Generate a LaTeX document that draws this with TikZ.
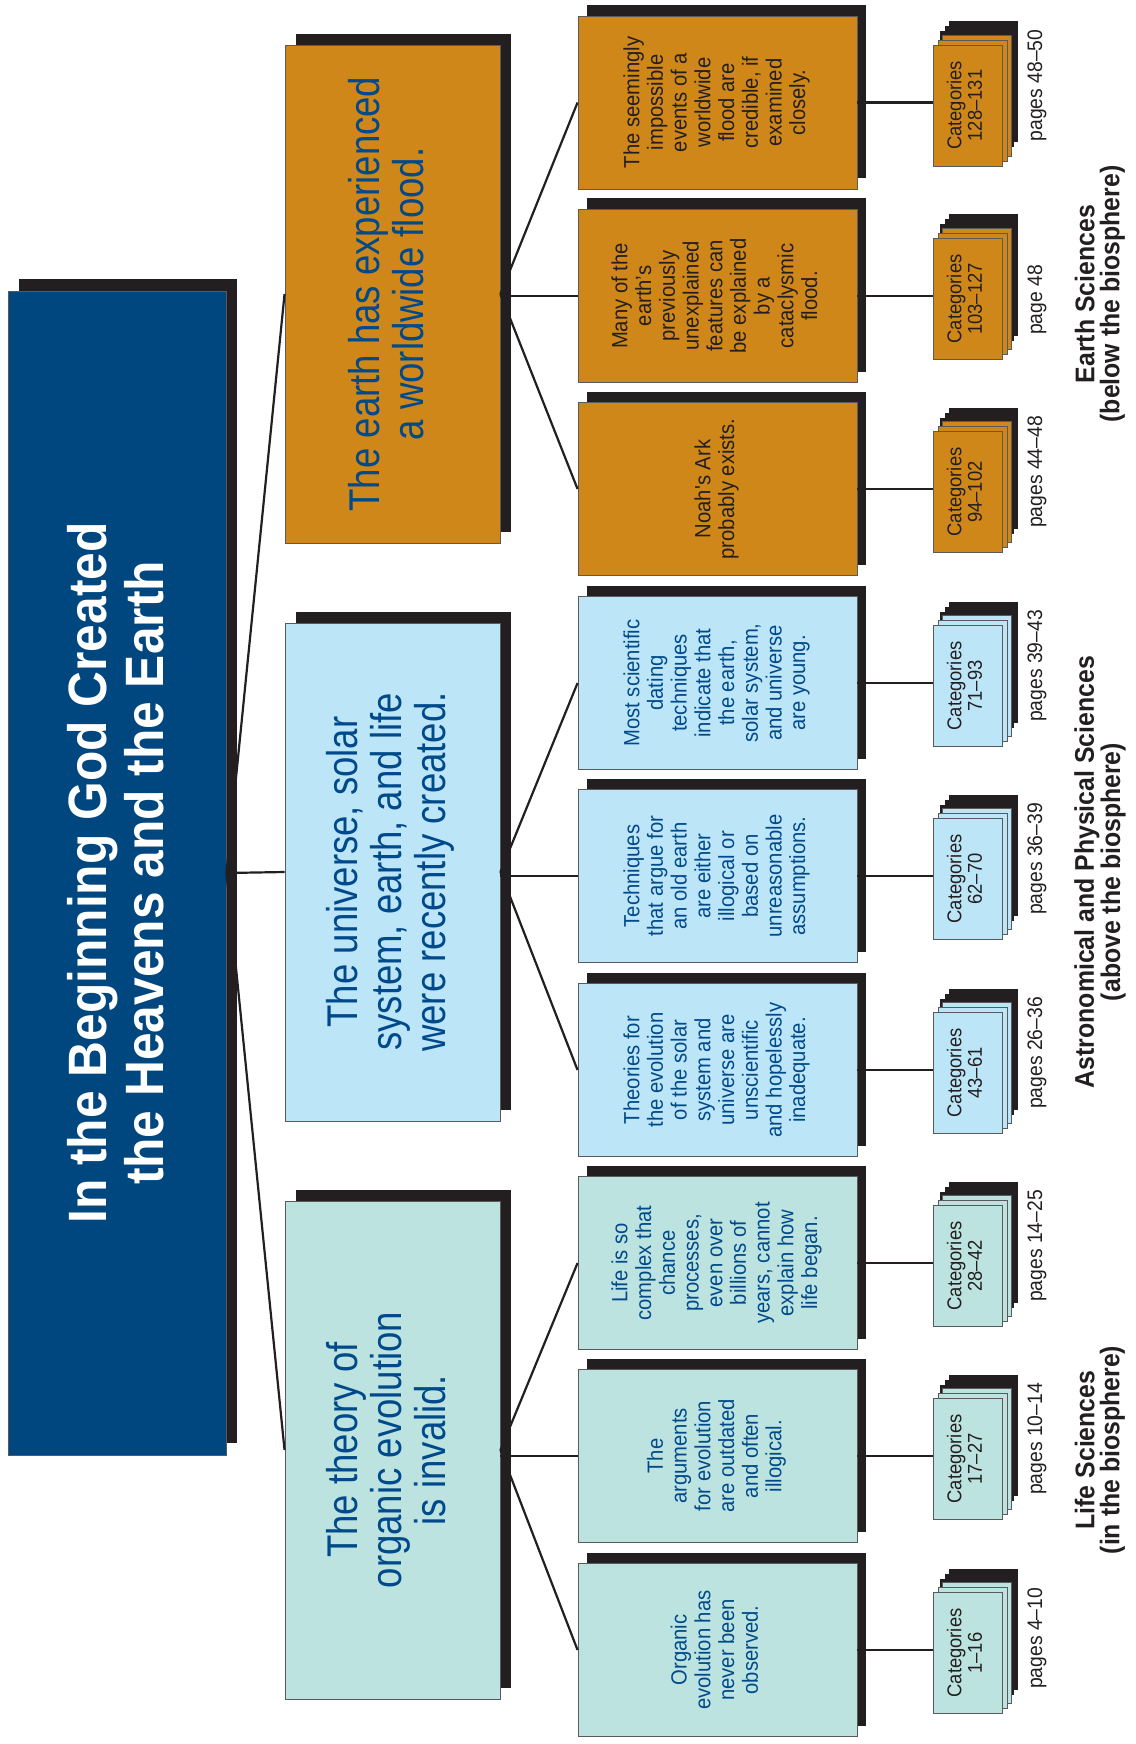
\documentclass[tikz,border=0pt]{standalone}
\usepackage{fontspec}
\setmainfont{Liberation Sans}[FakeStretch=0.92]
\newfontfamily\condfont{Liberation Sans}[FakeStretch=0.85]
\usepackage{graphicx}
\usetikzlibrary{shadows}

\definecolor{rootblue}{HTML}{00467F}
\definecolor{flood}{HTML}{CF8719}
\definecolor{skyblue}{HTML}{BDE5F8}
\definecolor{mint}{HTML}{BCE3DF}
\definecolor{inkblue}{HTML}{004A8B}
\definecolor{inkgray}{HTML}{231F20}
\definecolor{edgegray}{HTML}{5A5A5C}

% text that reads from bottom to top
\newcommand{\uptext}[1]{\rotatebox{90}{\begin{tabular}{@{}c@{}}#1\end{tabular}}}

\begin{document}
\begin{tikzpicture}[
    x=1pt, y=-1pt,
    rootbox/.style={
        draw=edgegray, line width=0.9pt, inner sep=0pt,
        fill=rootblue, text=white,
        minimum width=218pt, minimum height=1164pt,
        font=\bfseries\fontsize{54}{57}\selectfont,
        general shadow={shadow xshift=11pt, shadow yshift=12pt, fill=inkgray}
    },
    topicbox/.style={
        draw=edgegray, line width=0.9pt, inner sep=0pt,
        fill=#1, text=inkblue,
        minimum width=215pt, minimum height=498pt,
        font=\condfont\fontsize{43}{44}\selectfont,
        general shadow={shadow xshift=11pt, shadow yshift=11pt, fill=inkgray}
    },
    claimbox/.style={
        draw=edgegray, line width=0.9pt, inner sep=0pt,
        fill=#1, text=inkblue,
        minimum width=279pt, minimum height=173pt,
        font=\fontsize{22}{23.7}\selectfont,
        general shadow={shadow xshift=9pt, shadow yshift=11pt, fill=inkgray}
    },
    floodclaim/.style={claimbox=flood, text=inkgray},
    cardbox/.style={
        draw=edgegray, line width=0.9pt, inner sep=0pt,
        fill=#1, text=inkgray,
        minimum width=69pt, minimum height=121pt,
        font=\fontsize{20}{20.5}\selectfont,
        general shadow={shadow xshift=16pt, shadow yshift=24pt, fill=inkgray},
        general shadow={shadow xshift=11.5pt, shadow yshift=19pt, fill=inkgray},
        general shadow={shadow xshift=7pt, shadow yshift=14pt, fill=inkgray},
        general shadow={shadow xshift=9.5pt, shadow yshift=10pt, fill=#1, draw=edgegray, line width=0.9pt},
        general shadow={shadow xshift=5pt, shadow yshift=5pt, fill=#1, draw=edgegray, line width=0.9pt}
    },
    pagelabel/.style={
        rotate=90, anchor=base west, inner sep=0pt,
        text=inkgray, font=\fontsize{21}{24}\selectfont
    },
    sciencelabel/.style={
        rotate=90, align=center, inner sep=0pt,
        text=inkgray, font=\bfseries\fontsize{27}{25}\selectfont
    },
    link/.style={draw=inkgray, line width=2.2pt}
]
    \useasboundingbox (0,0) rectangle (1135,1744);

    % --- Root ---
    \node[rootbox] (root) at (117,873) {\rotatebox{90}{\raisebox{-7pt}[\height][\depth]{%
        \begin{tabular}{@{}c@{}}In the Beginning God Created\\the Heavens and the Earth\end{tabular}}}};

    % --- Topics ---
    \node[topicbox=flood] (earthtopic) at (392.5,294) {\uptext{The earth has experienced\\a worldwide flood.}};
    \node[topicbox=skyblue] (agetopic) at (392.5,872) {\uptext{The universe, solar\\system, earth, and life\\were recently created.}};
    \node[topicbox=mint] (lifetopic) at (392.5,1450) {\uptext{The theory of\\organic evolution\\is invalid.}};

    % --- Earth claims ---
    \node[floodclaim] (claim1) at (717.5,102.5) {\uptext{The seemingly\\impossible\\events of a\\worldwide\\flood are\\credible, if\\examined\\closely.}};
    \node[floodclaim] (claim2) at (717.5,296) {\uptext{Many of the\\earth’s\\previously\\unexplained\\features can\\be explained\\by a\\cataclysmic\\flood.}};
    \node[floodclaim] (claim3) at (717.5,489) {\uptext{Noah\textquotesingle s Ark\\probably exists.}};

    % --- Age claims ---
    \node[claimbox=skyblue] (claim4) at (717.5,683) {\uptext{Most scientific\\dating\\techniques\\indicate that\\the earth,\\solar system,\\and universe\\are young.}};
    \node[claimbox=skyblue] (claim5) at (717.5,876) {\uptext{Techniques\\that argue for\\an old earth\\are either\\illogical or\\based on\\unreasonable\\assumptions.}};
    \node[claimbox=skyblue] (claim6) at (717.5,1070) {\uptext{Theories for\\the evolution\\of the solar\\system and\\universe are\\unscientific\\and hopelessly\\inadequate.}};

    % --- Life claims ---
    \node[claimbox=mint] (claim7) at (717.5,1263) {\uptext{Life is so\\complex that\\chance\\processes,\\even over\\billions of\\years, cannot\\explain how\\life began.}};
    \node[claimbox=mint] (claim8) at (717.5,1456) {\uptext{The\\arguments\\for evolution\\are outdated\\and often\\illogical.}};
    \node[claimbox=mint] (claim9) at (717.5,1650) {\uptext{Organic\\evolution has\\never been\\observed.}};

    % --- Category stacks ---
    \node[cardbox=flood] (cat1) at (967.5,105.5) {\uptext{Categories\\128--131}};
    \node[cardbox=flood] (cat2) at (967.5,299) {\uptext{Categories\\103--127}};
    \node[cardbox=flood] (cat3) at (967.5,492) {\uptext{Categories\\94--102}};
    \node[cardbox=skyblue] (cat4) at (967.5,686) {\uptext{Categories\\71--93}};
    \node[cardbox=skyblue] (cat5) at (967.5,879) {\uptext{Categories\\62--70}};
    \node[cardbox=skyblue] (cat6) at (967.5,1073) {\uptext{Categories\\43--61}};
    \node[cardbox=mint] (cat7) at (967.5,1266) {\uptext{Categories\\28--42}};
    \node[cardbox=mint] (cat8) at (967.5,1459) {\uptext{Categories\\17--27}};
    \node[cardbox=mint] (cat9) at (967.5,1653) {\uptext{Categories\\1--16}};

    % --- Pages ---
    \node[pagelabel] (pg1) at (1042,141.5) {pages 48--50};
    \node[pagelabel] (pg2) at (1042,335) {page 48};
    \node[pagelabel] (pg3) at (1042,528) {pages 44--48};
    \node[pagelabel] (pg4) at (1042,722) {pages 39--43};
    \node[pagelabel] (pg5) at (1042,915) {pages 36--39};
    \node[pagelabel] (pg6) at (1042,1109) {pages 26--36};
    \node[pagelabel] (pg7) at (1042,1302) {pages 14--25};
    \node[pagelabel] (pg8) at (1042,1495) {pages 10--14};
    \node[pagelabel] (pg9) at (1042,1689) {pages 4--10};

    % --- Sciences ---
    \node[sciencelabel] (earthsci) at (1100,294) {Earth Sciences\\(below the biosphere)};
    \node[sciencelabel] (astrosci) at (1100,872) {Astronomical and Physical Sciences\\(above the biosphere)};
    \node[sciencelabel] (lifesci) at (1100,1450) {Life Sciences\\(in the biosphere)};

    % root to topics
    \draw[link] (root.east) -- (earthtopic.west);
    \draw[link] (root.east) -- (agetopic.west);
    \draw[link] (root.east) -- (lifetopic.west);

    % topics to claims
    \draw[link] (earthtopic.east) -- (claim1.west);
    \draw[link] (claim2.west -| earthtopic.east) -- (claim2.west);
    \draw[link] (earthtopic.east) -- (claim3.west);
    \draw[link] (agetopic.east) -- (claim4.west);
    \draw[link] (claim5.west -| agetopic.east) -- (claim5.west);
    \draw[link] (agetopic.east) -- (claim6.west);
    \draw[link] (lifetopic.east) -- (claim7.west);
    \draw[link] (claim8.west -| lifetopic.east) -- (claim8.west);
    \draw[link] (lifetopic.east) -- (claim9.west);

    % claims to categories
    \draw[link] (claim1.east) -- (claim1.east -| cat1.west);
    \draw[link] (claim2.east) -- (claim2.east -| cat2.west);
    \draw[link] (claim3.east) -- (claim3.east -| cat3.west);
    \draw[link] (claim4.east) -- (claim4.east -| cat4.west);
    \draw[link] (claim5.east) -- (claim5.east -| cat5.west);
    \draw[link] (claim6.east) -- (claim6.east -| cat6.west);
    \draw[link] (claim7.east) -- (claim7.east -| cat7.west);
    \draw[link] (claim8.east) -- (claim8.east -| cat8.west);
    \draw[link] (claim9.east) -- (claim9.east -| cat9.west);
\end{tikzpicture}
\end{document}
